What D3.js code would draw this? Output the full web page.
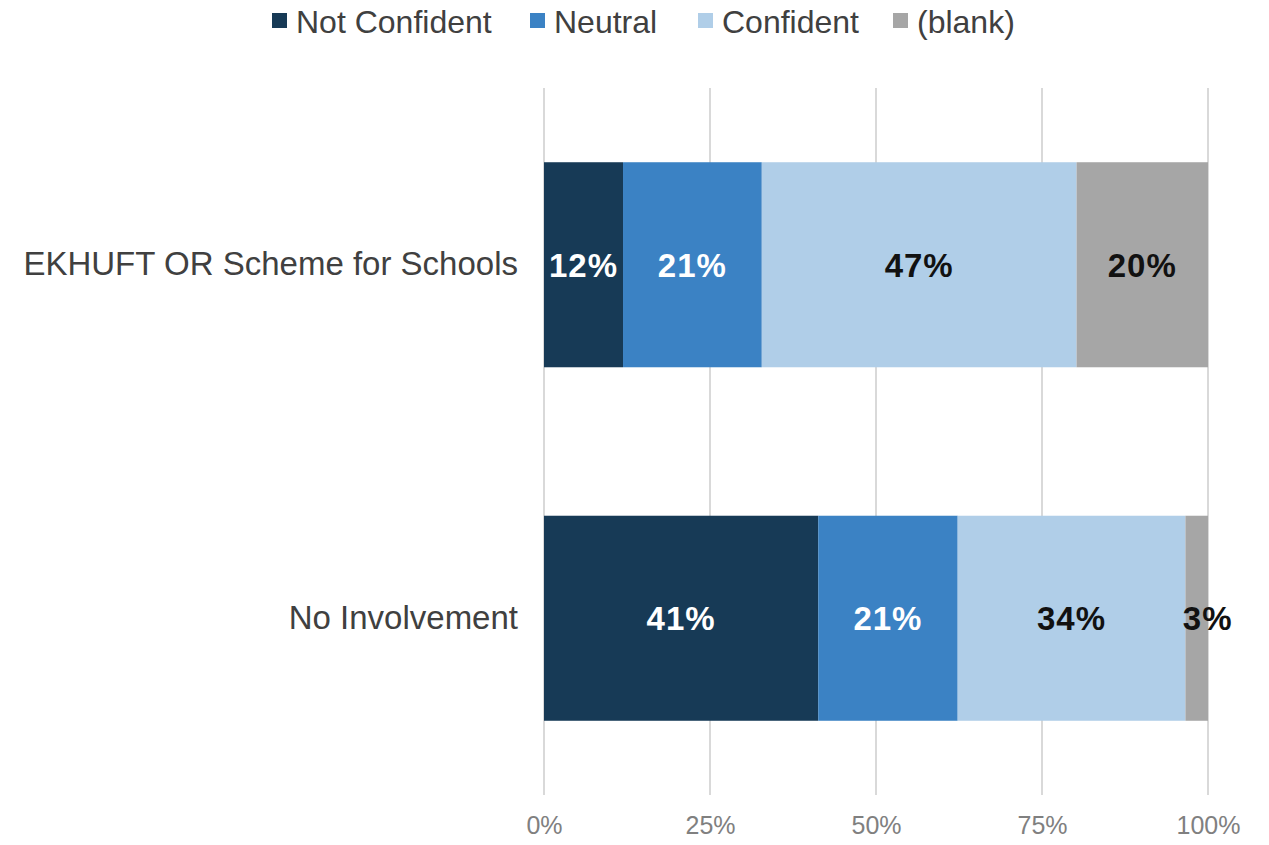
<!DOCTYPE html>
<html><head><meta charset="utf-8">
<script src="https://cdn.jsdelivr.net/npm/d3@7"></script>
<style>body{margin:0;background:#fff;} svg{display:block;font-family:"Liberation Sans",Arial,sans-serif;}</style>
</head><body>
<svg id="c" width="1269" height="845"></svg>
<script>
const categories = ["EKHUFT OR Scheme for Schools", "No Involvement"];
const seriesNames = ["Not Confident", "Neutral", "Confident", "(blank)"];
const notConfident = [11.9, 41.3];
const neutral = [20.9, 21.0];
const confident = [47.4, 34.3];
const blank = [19.8, 3.4];
const tickValues = [0, 25, 50, 75, 100];
const colors = ["#173a56", "#3b82c4", "#b0cee8", "#a6a6a6"];
const labelColors = ["#ffffff", "#ffffff", "#111111", "#111111"];

const svg = d3.select("#c");
const margin = {left: 544, right: 61, top: 88, bottom: 50};
const W = 1269, H = 845;
const x = d3.scaleLinear().domain([0, 100]).range([margin.left, W - margin.right]);
const y = d3.scaleBand().domain(categories).range([margin.top, H - margin.bottom]).paddingInner(0.42).paddingOuter(0.21);

const rows = categories.map((c, i) => ({cat: c, vals: [notConfident[i], neutral[i], confident[i], blank[i]]}));

// gridlines
svg.append("g").selectAll("line").data(tickValues).join("line")
  .attr("x1", d => x(d)).attr("x2", d => x(d))
  .attr("y1", margin.top).attr("y2", H - margin.bottom)
  .attr("stroke", "#d9d9d9").attr("stroke-width", 2);

// x tick labels
const xAxis = d3.axisBottom(x).tickValues(tickValues).tickFormat(d => d + "%").tickSize(0).tickPadding(0);
const gx = svg.append("g").attr("transform", `translate(0,${H - 29})`).call(xAxis);
gx.select(".domain").remove();
gx.selectAll("text").attr("font-size", 25).attr("fill", "#808080").attr("font-family", "Liberation Sans, Arial, sans-serif");

// bars
rows.forEach(r => {
  let cum = 0;
  const segs = r.vals.map((v, k) => { const s = {k, x0: cum, x1: cum + v, v}; cum += v; return s; });
  const g = svg.append("g");
  g.selectAll("rect").data(segs).join("rect")
    .attr("x", d => x(d.x0)).attr("width", d => x(d.x1) - x(d.x0))
    .attr("y", y(r.cat)).attr("height", y.bandwidth())
    .attr("fill", d => colors[d.k]);
  g.selectAll("text").data(segs).join("text")
    .attr("x", d => (x(d.x0) + x(d.x1)) / 2 + (d.v < 5 ? 11 : 0))
    .attr("y", y(r.cat) + y.bandwidth() / 2)
    .attr("dy", "0.36em").attr("text-anchor", "middle")
    .attr("font-size", 33).attr("font-weight", "bold").attr("letter-spacing", 1)
    .attr("fill", d => labelColors[d.k])
    .text(d => Math.round(d.v) + "%");
});

// y category labels
const yAxis = d3.axisLeft(y).tickSize(0).tickPadding(26);
const gy = svg.append("g").attr("transform", `translate(${margin.left},0)`).call(yAxis);
gy.select(".domain").remove();
gy.selectAll("text").attr("font-size", 33).attr("fill", "#404040").attr("font-family", "Liberation Sans, Arial, sans-serif");

// legend
const legendX = [272, 530, 698, 893];
const lg = svg.append("g");
seriesNames.forEach((n, i) => {
  lg.append("rect").attr("x", legendX[i]).attr("y", 13).attr("width", 15).attr("height", 15).attr("fill", colors[i]);
  lg.append("text").attr("x", legendX[i] + 24).attr("y", 21).attr("dy", "0.36em")
    .attr("font-size", 32).attr("fill", "#404040").text(n);
});
</script>
</body></html>
